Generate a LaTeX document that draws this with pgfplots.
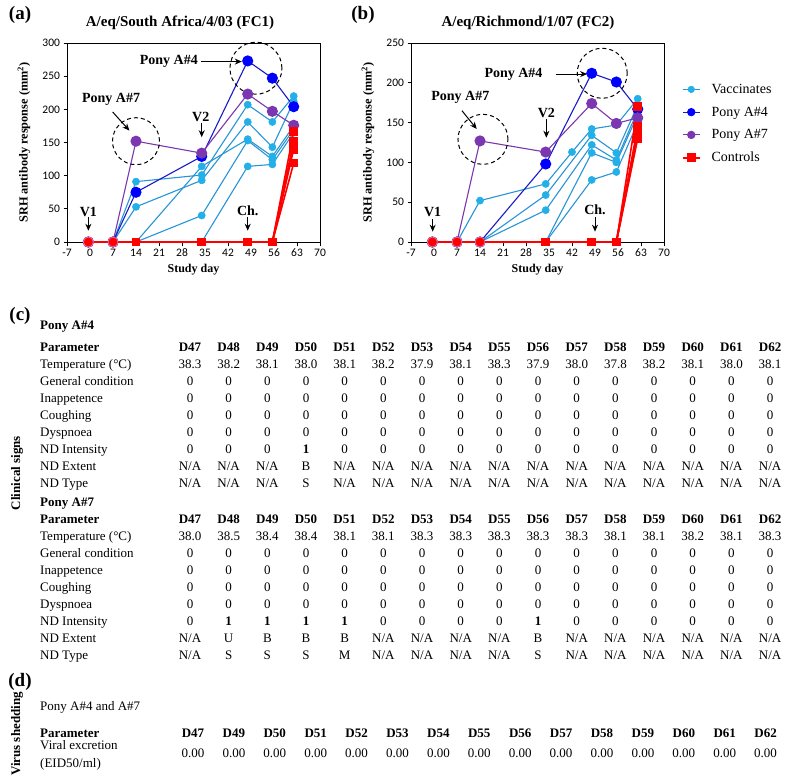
\documentclass[border=0pt]{standalone}
\usepackage{fontspec}
\setmainfont{Liberation Serif}
\newfontfamily\tickfont{Carlito}
\usepackage{pgfplots}
\pgfplotsset{compat=1.18}
\usetikzlibrary{arrows.meta}

\definecolor{vacc}{RGB}{35,175,232}
\definecolor{vaccline}{RGB}{40,148,214}
\definecolor{ponyfour}{RGB}{0,0,255}
\definecolor{ponyfourline}{RGB}{25,25,200}
\definecolor{ponyseven}{RGB}{123,55,175}
\definecolor{ctrl}{RGB}{255,0,0}
\definecolor{ctrledge}{RGB}{240,110,150}

\newcommand\fs[1]{\fontsize{#1}{#1}\selectfont}
% table row: #1 baseline y (px), #2 font, #3 values
\newcommand\crow[3]{\foreach \v [count=\i] in {#3}{\node[anchor=base, font=#2, inner sep=0pt] at ({190pt+38.67pt*(\i-1)}, {-#1pt}) {\v};}}
\newcommand\drow[3]{\foreach \v [count=\i] in {#3}{\node[anchor=base, font=#2, inner sep=0pt] at ({193pt+40.9pt*(\i-1)}, {-#1pt}) {\v};}}
\newcommand\rlab[2]{\node[anchor=base west, inner sep=0pt, font=\fs{13}] at (40pt,{-#1pt}) {#2};}

\tikzset{
 ann/.style={font=\bfseries\fs{14}},
 arr/.style={-{Stealth[length=7pt,width=6pt]}, line width=1pt, black},
 circ/.style={line width=1pt, black, dash pattern=on 4pt off 3pt},
}

\begin{document}
\begin{tikzpicture}
\path[use as bounding box] (0,0) rectangle (786pt,-780pt);

\pgfplotsset{
 srh/.style={
  scale only axis, width=253pt, height=199pt,
  xmin=-7, xmax=70, xtick={-7,0,...,70},
  ymin=0,
  axis line style={black, line width=0.8pt},
  tick align=outside, tick pos=left,
  major tick length=3.5pt,
  tick style={black, line width=0.7pt},
  ticklabel style={font=\tickfont\fs{11.5}},
  /pgf/number format/assume math mode=true,
  xlabel={\bfseries Study day},
  xlabel style={font=\fs{12}, at={(axis description cs:0.5,-0.14)}, anchor=center},
  ylabel={\bfseries SRH antibody response (mm\textsuperscript{2})},
  ylabel style={font=\fs{12.3}, at={(axis description cs:-0.17,0.5)}, anchor=center},
  clip=false,
 },
 vac/.style={color=vaccline, line width=1.1pt, mark=*, mark size=3.6pt, mark options={fill=vacc, draw=vacc, line width=0.5pt}},
 pfour/.style={color=ponyfourline, line width=1.1pt, mark=*, mark size=5pt, mark options={fill=ponyfour, draw=ponyfour}},
 pseven/.style={color=ponyseven, line width=1.1pt, mark=*, mark size=5pt, mark options={fill=ponyseven, draw=ponyseven}},
 ctl/.style={color=ctrl, line width=1.6pt, mark=square*, mark size=3.6pt, mark options={fill=ctrl, draw=ctrl}},
 ctlc/.style={only marks, mark=*, mark size=5pt, mark options={fill=ctrl, draw=ctrledge, line width=0.8pt}},
}

% ---------------- Panel (a) ----------------
\node[font=\bfseries\fs{19}] at (20pt,-15pt) {(a)};
\node[font=\bfseries\fs{15}] at (180pt,-23pt) {A/eq/South Africa/4/03 (FC1)};
\begin{axis}[srh, at={(67pt,-242pt)}, anchor=south west, ymax=300, ytick={0,50,...,300}]
\addplot[vac, forget plot] coordinates {(-0.5,0)(7,0)(14,91)(34,101)(48,207)(55.5,181)(62,220)};
\addplot[vac, forget plot] coordinates {(-0.5,0)(7,0)(14,53)(34,93)(48,181)(55.5,143)(62,212)};
\addplot[vac, forget plot] coordinates {(-0.5,0)(7,0)(14,0)(34,114)(48,155)(55.5,129)(62,175)};
\addplot[vac, forget plot] coordinates {(-0.5,0)(7,0)(14,0)(34,40)(48,153)(55.5,124)(62,170)};
\addplot[vac, forget plot] coordinates {(-0.5,0)(7,0)(14,0)(34,0)(48,114)(55.5,117)(62,165)};
\addplot[pfour, forget plot] coordinates {(-0.5,0)(7,0)(14,75)(34,129)(48,273)(55.5,247)(62,204)};
\addplot[pseven, forget plot] coordinates {(-0.5,0)(7,0)(14,152)(34,134)(48,223)(55.5,197)(62,176)};
\addplot[ctl, mark indices={3,4,5,6,7}, forget plot] coordinates {(-0.5,0)(7,0)(14,0)(34,0)(48,0)(55.5,0)(62,167)};
\addplot[ctl, mark indices={3,4,5,6,7}, forget plot] coordinates {(-0.5,0)(7,0)(14,0)(34,0)(48,0)(55.5,0)(62,152)};
\addplot[ctl, mark indices={3,4,5,6,7}, forget plot] coordinates {(-0.5,0)(7,0)(14,0)(34,0)(48,0)(55.5,0)(62,145)};
\addplot[ctl, mark indices={3,4,5,6,7}, forget plot] coordinates {(-0.5,0)(7,0)(14,0)(34,0)(48,0)(55.5,0)(62,140)};
\addplot[ctl, mark indices={3,4,5,6,7}, forget plot] coordinates {(-0.5,0)(7,0)(14,0)(34,0)(48,0)(55.5,0)(62,119)};
\addplot[ctlc, forget plot] coordinates {(-0.5,0)(7,0)};
% annotations
\node[ann] at (axis cs:24,272) {Pony A\#4};
\draw[arr] (axis cs:33.7,272) -- (axis cs:46.2,272);
\draw[circ] (axis cs:50.5,262) circle (26pt);
\node[ann] at (axis cs:6.4,215) {Pony A\#7};
\draw[arr] (axis cs:6.9,196) -- (axis cs:12,168);
\draw[circ] (axis cs:14,152) circle (23.5pt);
\node[ann] at (axis cs:33.7,188) {V2};
\draw[arr] (axis cs:34,180) -- (axis cs:34,158);
\node[ann] at (axis cs:-0.5,46) {V1};
\draw[arr] (axis cs:-0.5,38) -- (axis cs:-0.5,17);
\node[ann] at (axis cs:48,47) {Ch.};
\draw[arr] (axis cs:48,38) -- (axis cs:48,17);
\end{axis}

% ---------------- Panel (b) ----------------
\node[font=\bfseries\fs{19}] at (363pt,-15pt) {(b)};
\node[font=\bfseries\fs{15}] at (528pt,-23pt) {A/eq/Richmond/1/07 (FC2)};
\begin{axis}[srh, at={(411pt,-242pt)}, anchor=south west, ymax=250, ytick={0,50,...,250},
  legend style={draw=none, fill=none, font=\fs{14}, at={(rel axis cs:1.07,0.805)}, anchor=north west, row sep=8pt, column sep=9pt, inner sep=0pt},
  legend cell align=left]
\addlegendimage{vac, mark size=3.3pt}\addlegendentry{Vaccinates}
\addlegendimage{pfour, mark size=3.6pt}\addlegendentry{Pony A\#4}
\addlegendimage{pseven, mark size=3.6pt}\addlegendentry{Pony A\#7}
\addlegendimage{ctl, mark size=3.6pt}\addlegendentry{Controls}
\addplot[vac, forget plot] coordinates {(-0.5,0)(7,0)(14,52)(34,73)(42,113)(48,142)(55.5,147)(62,180)};
\addplot[vac, forget plot] coordinates {(-0.5,0)(7,0)(14,0)(34,59)(48,134)(55.5,112)(62,172)};
\addplot[vac, forget plot] coordinates {(-0.5,0)(7,0)(14,0)(34,40)(48,122)(55.5,103)(62,165)};
\addplot[vac, forget plot] coordinates {(-0.5,0)(7,0)(14,0)(34,0)(48,112)(55.5,100)(62,160)};
\addplot[vac, forget plot] coordinates {(-0.5,0)(7,0)(14,0)(34,0)(48,78)(55.5,88)(62,150)};
\addplot[pfour, forget plot] coordinates {(-0.5,0)(7,0)(14,0)(34,98)(48,212)(55.5,201)(62,167)};
\addplot[pseven, forget plot] coordinates {(-0.5,0)(7,0)(14,127)(34,113)(48,174)(55.5,149)(62,156)};
\addplot[ctl, mark indices={4,5,6,7}, forget plot] coordinates {(-0.5,0)(7,0)(14,0)(34,0)(48,0)(55.5,0)(62,170)};
\addplot[ctl, mark indices={4,5,6,7}, forget plot] coordinates {(-0.5,0)(7,0)(14,0)(34,0)(48,0)(55.5,0)(62,145)};
\addplot[ctl, mark indices={4,5,6,7}, forget plot] coordinates {(-0.5,0)(7,0)(14,0)(34,0)(48,0)(55.5,0)(62,140)};
\addplot[ctl, mark indices={4,5,6,7}, forget plot] coordinates {(-0.5,0)(7,0)(14,0)(34,0)(48,0)(55.5,0)(62,135)};
\addplot[ctl, mark indices={4,5,6,7}, forget plot] coordinates {(-0.5,0)(7,0)(14,0)(34,0)(48,0)(55.5,0)(62,130)};
\addplot[ctlc, forget plot] coordinates {(-0.5,0)(7,0)(14,0)};
\node[ann] at (axis cs:24.2,211) {Pony A\#4};
\draw[arr] (axis cs:37,211) -- (axis cs:46.6,211);
\draw[circ] (axis cs:51.2,212) circle (25pt);
\node[ann] at (axis cs:8,182) {Pony A\#7};
\draw[arr] (axis cs:8.5,165) -- (axis cs:13,142);
\draw[circ] (axis cs:14.9,129) circle (25pt);
\node[ann] at (axis cs:34.2,162) {V2};
\draw[arr] (axis cs:34.2,154) -- (axis cs:34.2,131);
\node[ann] at (axis cs:-0.4,38) {V1};
\draw[arr] (axis cs:-0.4,29) -- (axis cs:-0.4,13);
\node[ann] at (axis cs:49,40) {Ch.};
\draw[arr] (axis cs:49,31) -- (axis cs:49,13);
\end{axis}

% ---------------- Panel (c) ----------------
\node[font=\bfseries\fs{19}] at (20pt,-316pt) {(c)};
\node[rotate=90, font=\bfseries\fs{13}] at (17pt,-473pt) {Clinical signs};

\node[anchor=base west, inner sep=0pt, font=\bfseries\fs{13}] at (40pt,-329pt) {Pony A\#4};
\node[anchor=base west, inner sep=0pt, font=\bfseries\fs{13}] at (40pt,-351pt) {Parameter};
\crow{351}{\bfseries\fs{13}}{D47,D48,D49,D50,D51,D52,D53,D54,D55,D56,D57,D58,D59,D60,D61,D62}
\rlab{368}{Temperature (°C)}
\crow{368}{\fs{13}}{38.3,38.2,38.1,38.0,38.1,38.2,37.9,38.1,38.3,37.9,38.0,37.8,38.2,38.1,38.0,38.1}
\rlab{385}{General condition}
\crow{385}{\fs{13}}{0,0,0,0,0,0,0,0,0,0,0,0,0,0,0,0}
\rlab{402}{Inappetence}
\crow{402}{\fs{13}}{0,0,0,0,0,0,0,0,0,0,0,0,0,0,0,0}
\rlab{419}{Coughing}
\crow{419}{\fs{13}}{0,0,0,0,0,0,0,0,0,0,0,0,0,0,0,0}
\rlab{436}{Dyspnoea}
\crow{436}{\fs{13}}{0,0,0,0,0,0,0,0,0,0,0,0,0,0,0,0}
\rlab{453}{ND Intensity}
\crow{453}{\fs{13}}{0,0,0,\textbf{1},0,0,0,0,0,0,0,0,0,0,0,0}
\rlab{470}{ND Extent}
\crow{470}{\fs{13}}{N/A,N/A,N/A,B,N/A,N/A,N/A,N/A,N/A,N/A,N/A,N/A,N/A,N/A,N/A,N/A}
\rlab{487}{ND Type}
\crow{487}{\fs{13}}{N/A,N/A,N/A,S,N/A,N/A,N/A,N/A,N/A,N/A,N/A,N/A,N/A,N/A,N/A,N/A}

\node[anchor=base west, inner sep=0pt, font=\bfseries\fs{13}] at (40pt,-506pt) {Pony A\#7};
\node[anchor=base west, inner sep=0pt, font=\bfseries\fs{13}] at (40pt,-523pt) {Parameter};
\crow{523}{\bfseries\fs{13}}{D47,D48,D49,D50,D51,D52,D53,D54,D55,D56,D57,D58,D59,D60,D61,D62}
\rlab{540}{Temperature (°C)}
\crow{540}{\fs{13}}{38.0,38.5,38.4,38.4,38.1,38.1,38.3,38.3,38.3,38.3,38.3,38.1,38.1,38.2,38.1,38.3}
\rlab{557}{General condition}
\crow{557}{\fs{13}}{0,0,0,0,0,0,0,0,0,0,0,0,0,0,0,0}
\rlab{574}{Inappetence}
\crow{574}{\fs{13}}{0,0,0,0,0,0,0,0,0,0,0,0,0,0,0,0}
\rlab{591}{Coughing}
\crow{591}{\fs{13}}{0,0,0,0,0,0,0,0,0,0,0,0,0,0,0,0}
\rlab{608}{Dyspnoea}
\crow{608}{\fs{13}}{0,0,0,0,0,0,0,0,0,0,0,0,0,0,0,0}
\rlab{625}{ND Intensity}
\crow{625}{\fs{13}}{0,\textbf{1},\textbf{1},\textbf{1},\textbf{1},0,0,0,0,\textbf{1},0,0,0,0,0,0}
\rlab{642}{ND Extent}
\crow{642}{\fs{13}}{N/A,U,B,B,B,N/A,N/A,N/A,N/A,B,N/A,N/A,N/A,N/A,N/A,N/A}
\rlab{659}{ND Type}
\crow{659}{\fs{13}}{N/A,S,S,S,M,N/A,N/A,N/A,N/A,S,N/A,N/A,N/A,N/A,N/A,N/A}

% ---------------- Panel (d) ----------------
\node[font=\bfseries\fs{19}] at (20pt,-682pt) {(d)};
\node[rotate=90, font=\bfseries\fs{13}] at (17pt,-734pt) {Virus shedding};
\node[anchor=base west, inner sep=0pt, font=\fs{13}] at (40pt,-710pt) {Pony A\#4 and A\#7};
\node[anchor=base west, inner sep=0pt, font=\bfseries\fs{13}] at (40pt,-737pt) {Parameter};
\drow{737}{\bfseries\fs{13}}{D47,D49,D50,D51,D52,D53,D54,D55,D56,D57,D58,D59,D60,D61,D62}
\rlab{749}{Viral excretion}
\rlab{767}{(EID50/ml)}
\drow{757}{\fs{13}}{0.00,0.00,0.00,0.00,0.00,0.00,0.00,0.00,0.00,0.00,0.00,0.00,0.00,0.00,0.00}
\end{tikzpicture}
\end{document}
